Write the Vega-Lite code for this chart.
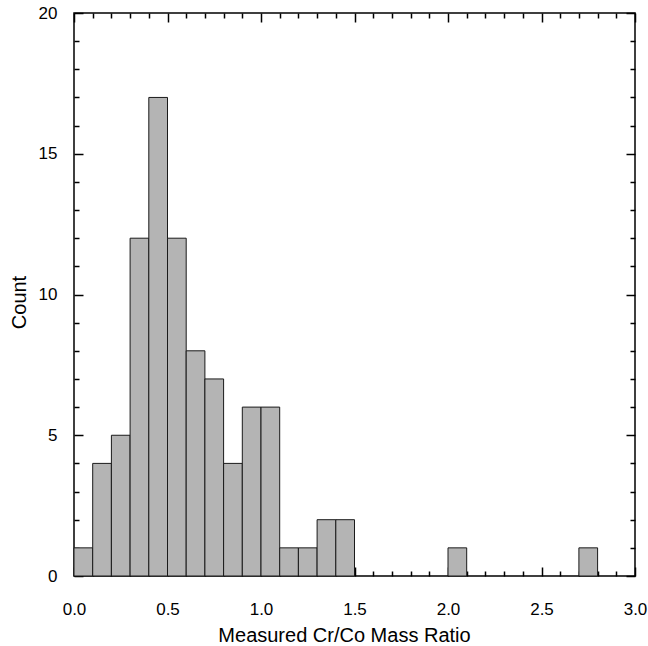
{
  "$schema": "https://vega.github.io/schema/vega-lite/v6.json",
  "autosize": {"type": "none"},
  "padding": {"left": 74, "top": 13, "right": 13, "bottom": 70},
  "width": 561,
  "height": 563,
  "config": {
    "view": {"stroke": "#000000", "strokeWidth": 1.5},
    "font": "Liberation Sans",
    "axis": {"domain": false, "grid": false, "tickColor": "#000000", "labelColor": "#000000", "titleColor": "#000000", "labelFont": "Liberation Sans", "titleFont": "Liberation Sans", "labelFontSize": 17, "titleFontSize": 20, "titleFontWeight": "normal", "tickWidth": 1.5, "labelFlush": false}
  },
  "data": {
    "values": [
      {"bin_start": 0.0, "bin_end": 0.1, "count": 1},
      {"bin_start": 0.1, "bin_end": 0.2, "count": 4},
      {"bin_start": 0.2, "bin_end": 0.3, "count": 5},
      {"bin_start": 0.3, "bin_end": 0.4, "count": 12},
      {"bin_start": 0.4, "bin_end": 0.5, "count": 17},
      {"bin_start": 0.5, "bin_end": 0.6, "count": 12},
      {"bin_start": 0.6, "bin_end": 0.7, "count": 8},
      {"bin_start": 0.7, "bin_end": 0.8, "count": 7},
      {"bin_start": 0.8, "bin_end": 0.9, "count": 4},
      {"bin_start": 0.9, "bin_end": 1.0, "count": 6},
      {"bin_start": 1.0, "bin_end": 1.1, "count": 6},
      {"bin_start": 1.1, "bin_end": 1.2, "count": 1},
      {"bin_start": 1.2, "bin_end": 1.3, "count": 1},
      {"bin_start": 1.3, "bin_end": 1.4, "count": 2},
      {"bin_start": 1.4, "bin_end": 1.5, "count": 2},
      {"bin_start": 2.0, "bin_end": 2.1, "count": 1},
      {"bin_start": 2.7, "bin_end": 2.8, "count": 1}
    ]
  },
  "resolve": {"axis": {"x": "independent", "y": "independent"}},
  "layer": [
    {
      "mark": {"type": "bar", "fill": "#b4b4b4", "stroke": "#1a1a1a", "strokeWidth": 1},
      "encoding": {
        "x": {"field": "bin_start", "type": "quantitative", "scale": {"domain": [0, 3], "nice": false},
          "axis": {"orient": "bottom", "values": [0, 0.5, 1, 1.5, 2, 2.5, 3], "format": ".1f", "tickSize": -9, "labelPadding": 34, "title": "Measured Cr/Co Mass Ratio", "titlePadding": 8, "titleX": 270}},
        "x2": {"field": "bin_end"},
        "y": {"field": "count", "type": "quantitative", "scale": {"domain": [0, 20], "nice": false},
          "axis": {"orient": "left", "values": [0, 5, 10, 15, 20], "tickSize": -9, "labelPadding": 26, "title": "Count", "titlePadding": 9, "titleY": 289}},
        "y2": {"datum": 0}
      }
    },
    {
      "mark": {"type": "bar", "opacity": 0},
      "encoding": {
        "x": {"field": "bin_start", "type": "quantitative",
          "axis": {"orient": "bottom", "values": [0.1,0.2,0.3,0.4,0.6,0.7,0.8,0.9,1.1,1.2,1.3,1.4,1.6,1.7,1.8,1.9,2.1,2.2,2.3,2.4,2.6,2.7,2.8,2.9], "tickSize": -5, "labels": false, "title": null}},
        "x2": {"field": "bin_end"},
        "y": {"field": "count", "type": "quantitative",
          "axis": {"orient": "left", "values": [1,2,3,4,6,7,8,9,11,12,13,14,16,17,18,19], "tickSize": -5, "labels": false, "title": null}},
        "y2": {"datum": 0}
      }
    },
    {
      "mark": {"type": "bar", "opacity": 0},
      "encoding": {
        "x": {"field": "bin_start", "type": "quantitative",
          "axis": {"orient": "top", "values": [0, 0.5, 1, 1.5, 2, 2.5, 3], "tickSize": -9, "labels": false, "title": null}},
        "x2": {"field": "bin_end"},
        "y": {"field": "count", "type": "quantitative",
          "axis": {"orient": "right", "values": [0, 5, 10, 15, 20], "tickSize": -9, "labels": false, "title": null}},
        "y2": {"datum": 0}
      }
    },
    {
      "mark": {"type": "bar", "opacity": 0},
      "encoding": {
        "x": {"field": "bin_start", "type": "quantitative",
          "axis": {"orient": "top", "values": [0.1,0.2,0.3,0.4,0.6,0.7,0.8,0.9,1.1,1.2,1.3,1.4,1.6,1.7,1.8,1.9,2.1,2.2,2.3,2.4,2.6,2.7,2.8,2.9], "tickSize": -5, "labels": false, "title": null}},
        "x2": {"field": "bin_end"},
        "y": {"field": "count", "type": "quantitative",
          "axis": {"orient": "right", "values": [1,2,3,4,6,7,8,9,11,12,13,14,16,17,18,19], "tickSize": -5, "labels": false, "title": null}},
        "y2": {"datum": 0}
      }
    }
  ]
}
